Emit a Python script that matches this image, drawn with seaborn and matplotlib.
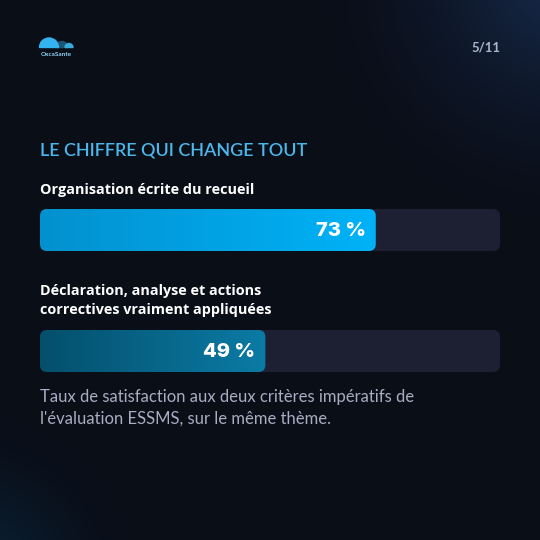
import numpy as np
import pandas as pd
import matplotlib
matplotlib.use("Agg")
import matplotlib.pyplot as plt
import seaborn as sns
from matplotlib.patches import FancyBboxPatch, Wedge
from matplotlib.colors import LinearSegmentedColormap

# data
labels = ["Organisation écrite du recueil",
          "Déclaration, analyse et actions\ncorrectives vraiment appliquées"]
values = [73, 49]
value_text = ["73 %", "49 %"]
track_max = [100, 100]
grad_left = ["#0391cf", "#044f6c"]
grad_right = ["#00b2f7", "#0b7ba5"]

title = "LE CHIFFRE QUI CHANGE TOUT"
note = ("Taux de satisfaction aux deux critères impératifs de\n"
        "l'évaluation ESSMS, sur le même thème.")
page = "5/11"

df = pd.DataFrame({"label": labels, "value": values, "track": track_max})

sns.set_theme(style="white")
plt.rcParams["font.family"] = ["Lato", "DejaVu Sans"]

fig = plt.figure(figsize=(5.4, 5.4), dpi=100)
bg = fig.add_axes([0, 0, 1, 1])
bg.set_xlim(0, 540)
bg.set_ylim(540, 0)
bg.axis("off")

# background with corner glows
yy, xx = np.mgrid[0:540, 0:540]
base = np.array([0.039, 0.055, 0.094])
img = np.ones((540, 540, 3)) * base
d1 = np.sqrt((xx - 560) ** 2 + (yy + 20) ** 2)
g1 = np.clip(1 - d1 / 240, 0, 1) ** 1.5
img += g1[..., None] * np.array([0.05, 0.11, 0.20])
d2 = np.sqrt((xx + 30) ** 2 + (yy - 580) ** 2)
g2 = np.clip(1 - d2 / 170, 0, 1) ** 1.6
img += g2[..., None] * np.array([0.0, 0.10, 0.15])
bg.imshow(np.clip(img, 0, 1), extent=(0, 540, 540, 0), zorder=0, aspect="auto")

# bars drawn with seaborn, then restyled
bar_h = 42 / 121
top, bottom = 209, 372
ax = fig.add_axes([40 / 540, 1 - bottom / 540, 460 / 540, (bottom - top) / 540])
ax.patch.set_alpha(0)
sns.barplot(data=df, x="track", y="label", orient="h", width=bar_h, color="#1d1f33", ax=ax)
sns.barplot(data=df, x="value", y="label", orient="h", width=bar_h, color="#00b2f7", ax=ax)
ax.set_xlim(0, 100)
ax.set_ylim(1 + (bottom - top - 121) / 242, -(bottom - top - 121) / 242)
ax.axis("off")

fig.canvas.draw()
to_px = bg.transData.inverted()
patches = list(ax.patches)
for i, p in enumerate(patches):
    bb = p.get_window_extent()
    (x0, y0), (x1, y1) = to_px.transform([[bb.x0, bb.y0], [bb.x1, bb.y1]])
    ya, yb = min(y0, y1), max(y0, y1)
    p.set_visible(False)
    k = i % 2
    box = FancyBboxPatch((x0, ya), x1 - x0, yb - ya,
                         boxstyle="round,pad=0,rounding_size=7",
                         transform=bg.transData, lw=0, zorder=2)
    if i < 2:
        box.set_facecolor("#1d1f33")
        bg.add_patch(box)
    else:
        box.set_facecolor("none")
        bg.add_patch(box)
        cmap = LinearSegmentedColormap.from_list("g", [grad_left[k], grad_right[k]])
        im = bg.imshow(np.linspace(0, 1, 256)[None, :], cmap=cmap, aspect="auto",
                       extent=(x0, x1, yb, ya), zorder=3)
        im.set_clip_path(box)
        bg.text(x1 - 10, (ya + yb) / 2 + 1, value_text[k], color="white",
                fontsize=14.5, fontweight="heavy", ha="right", va="center",
                family=["Inter", "DejaVu Sans"], zorder=4)
bg.set_xlim(0, 540)
bg.set_ylim(540, 0)

# texts
lab_font = ["Open Sans", "DejaVu Sans"]
bg.text(40, 150, title, color="#4db6ea", fontsize=13, fontweight="semibold",
        va="center", ha="left", zorder=5)
bg.text(40, 190, labels[0], color="white", fontsize=10.4, fontweight="bold",
        va="center", ha="left", family=lab_font, zorder=5)
bg.text(40, 300.5, labels[1], color="white", fontsize=10.4, fontweight="bold",
        va="center", ha="left", linespacing=1.42, family=lab_font, zorder=5)
bg.text(40, 408, note, color="#a7aec2", fontsize=12, va="center", ha="left",
        linespacing=1.45, zorder=5)
bg.text(500, 48, page, color="#a9b6cb", fontsize=9.5, fontweight="bold",
        va="center", ha="right", zorder=5)

# logo
bg.add_patch(Wedge((62, 47.5), 6, 180, 360, color="#1b5676", zorder=5))
bg.add_patch(Wedge((69, 47.5), 4, 180, 360, color="#3aa9dc", zorder=6))
bg.add_patch(Wedge((49, 47.5), 9.5, 180, 360, color="#33b3ef", zorder=7))
bg.text(56, 54.5, "OxcaSante", color="#8fd3f5", fontsize=4.6, fontweight="bold",
        ha="center", va="center", zorder=7)

fig.savefig("out.png", dpi=100, facecolor="#0a0e18")
